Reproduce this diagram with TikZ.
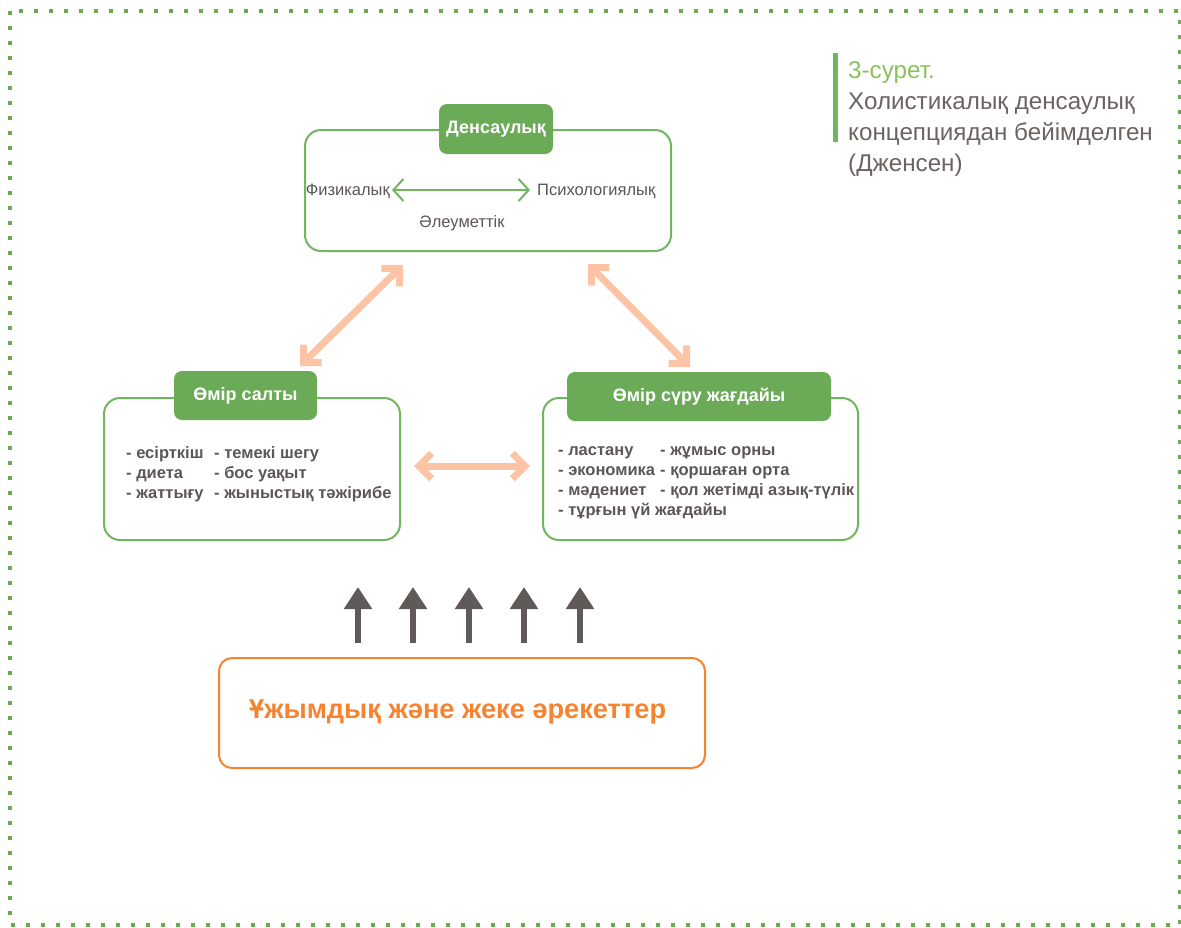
\documentclass[tikz,border=0pt]{standalone}
\usepackage{fontspec}
\setmainfont{Liberation Sans}
\usetikzlibrary{arrows.meta}
\definecolor{framegreen}{HTML}{6AAB50}
\definecolor{boxgreen}{HTML}{72B560}
\definecolor{titlegreen}{HTML}{6BAA57}
\definecolor{peach}{HTML}{FCC4A4}
\definecolor{textgray}{HTML}{5C5656}
\definecolor{capgray}{HTML}{6B6360}
\definecolor{capgreen}{HTML}{8CBF5E}
\definecolor{actorange}{HTML}{F5832F}
\definecolor{upgray}{HTML}{5F5958}
\tikzset{
  outerbox/.style={draw=boxgreen, line width=2pt, rounded corners=16pt, fill=white,
    inner sep=0pt},
  titlebox/.style={fill=titlegreen, rounded corners=8pt, text=white, inner sep=0pt,
    font=\bfseries\fontsize{18}{21}\selectfont},
  listcol/.style={anchor=north west, align=left, inner sep=0pt, text=textgray,
    font=\bfseries\fontsize{16.5}{20}\selectfont},
  aspect/.style={text=textgray, inner sep=0pt, font=\fontsize{16.5}{19}\selectfont},
  linkarrow/.style={draw=peach, line width=7pt,
    {Straight Barb[angle=90:18pt]}-{Straight Barb[angle=90:18pt]}},
  uparrow/.style={draw=upgray, line width=6pt, -{Triangle[length=22pt,width=27pt]}},
  captext/.style={anchor=base west, inner sep=0pt, text=capgray,
    font=\fontsize{24.2}{31}\selectfont},
}
\begin{document}
\begin{tikzpicture}[x=1pt,y=-1pt]
\useasboundingbox (0,0) rectangle (1181,927);

% dotted frame
\draw[framegreen, line width=4pt, dash pattern=on 4pt off 11pt] (10,11) rectangle (1180,925);

% caption
\fill[boxgreen] (833,53) rectangle (838,142);
\node[captext, text=capgreen] (cap1) at (848,78) {3-сурет.};
\node[captext] (cap2) at (848,109) {Холистикалық денсаулық};
\node[captext] (cap3) at (848,140) {концепциядан бейімделген};
\node[captext] (cap4) at (848,171) {(Дженсен)};

% health box
\node[outerbox, minimum width=366pt, minimum height=121pt] (health) at (488,190.5) {};
\node[titlebox, minimum width=114pt, minimum height=50pt] (healthT) at (496,129) {Денсаулық};
\node[aspect, anchor=east] (phys) at (390,191) {Физикалық};
\node[aspect, anchor=west] (psych) at (537,191) {Психологиялық};
\node[aspect] (social) at (462,223) {Әлеуметтік};
\coordinate (pe) at (392,190);
\coordinate (ps) at (530,190);
\draw[boxgreen, line width=2pt,
  {Straight Barb[length=10pt,width=22pt]}-{Straight Barb[length=10pt,width=22pt]}]
  (pe) -- (ps);

% lifestyle box
\node[outerbox, minimum width=296pt, minimum height=142pt] (life) at (252,469) {};
\node[titlebox, minimum width=143pt, minimum height=49pt] (lifeT) at (245.5,395.5) {Өмір салты};
\node[listcol] (lifeA) at (126,446.5) {- есірткіш\\- диета\\- жаттығу};
\node[listcol] (lifeB) at (214,446.5) {- темекі шегу\\- бос уақыт\\- жыныстық тәжірибе};

% living conditions box
\node[outerbox, minimum width=315pt, minimum height=142pt] (cond) at (700.5,469) {};
\node[titlebox, minimum width=264pt, minimum height=49pt] (condT) at (699,396.5) {Өмір сүру жағдайы};
\node[listcol] (condA) at (558,446.5) {- ластану\\- экономика\\- мәдениет\\- тұрғын үй жағдайы};
\node[listcol] (condB) at (660,446.5) {- жұмыс орны\\- қоршаған орта\\- қол жетімді азық-түлік};

% links between the three areas
\coordinate (hl) at (403,265);
\coordinate (lh) at (300,366);
\coordinate (hc) at (588,264);
\coordinate (ch) at (690,367);
\coordinate (lc) at (414,466);
\coordinate (cl) at (530,466);
\draw[linkarrow] (hl) -- (lh);
\draw[linkarrow] (hc) -- (ch);
\draw[linkarrow] (lc) -- (cl);

% actions box
\node[draw=actorange, line width=2pt, rounded corners=13pt, minimum width=486pt,
  minimum height=110pt, inner sep=0pt] (act) at (462,713) {};
\node[anchor=west, inner sep=0pt, text=actorange, font=\bfseries\fontsize{27.2}{31}\selectfont]
  (actT) at (249,712) {Ұжымдық және жеке әрекеттер};

% upward arrows
\foreach \i/\x in {1/358,2/413,3/469,4/524,5/580}{
  \coordinate (ub\i) at (\x,643);
  \coordinate (ut\i) at (\x,587);
  \draw[uparrow] (ub\i) -- (ut\i);
}
\end{tikzpicture}
\end{document}
